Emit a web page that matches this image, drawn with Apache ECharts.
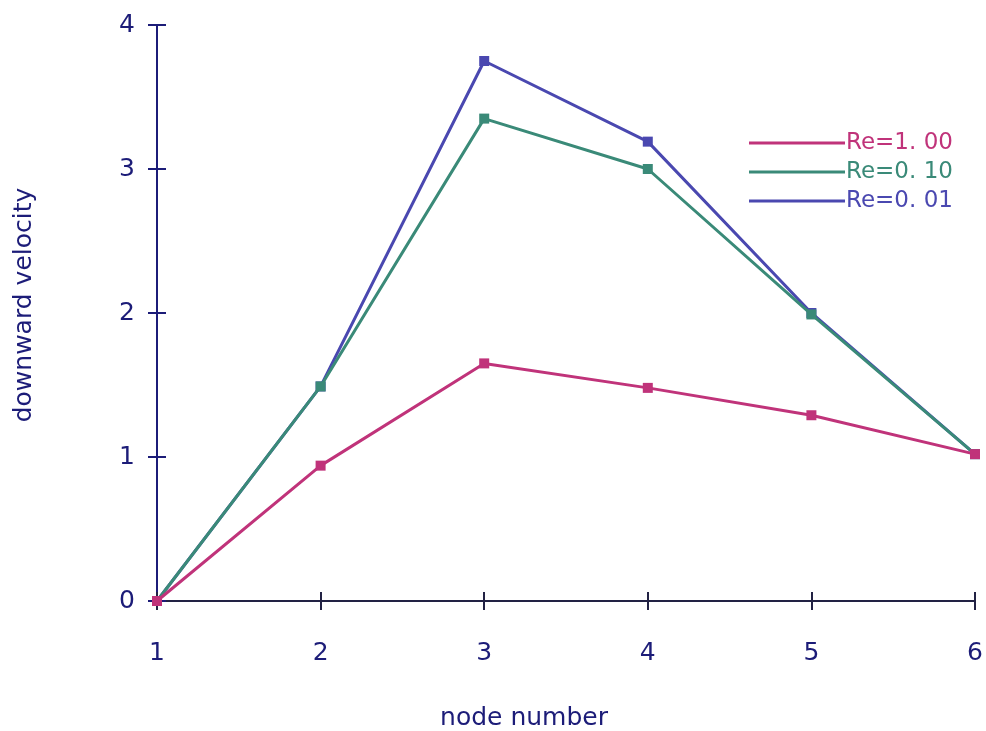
<!DOCTYPE html>
<html><head><meta charset="utf-8">
<script src="https://cdn.jsdelivr.net/npm/echarts@6/dist/echarts.min.js"></script>
<style>html,body{margin:0;padding:0;background:#fff}#c{width:986px;height:731px}</style>
</head><body><div id="c"></div>
<script>
const nodes = [1, 2, 3, 4, 5, 6];
const re100 = [0, 0.94, 1.65, 1.48, 1.29, 1.02];
const re010 = [0, 1.49, 3.35, 3.00, 1.99, 1.02];
const re001 = [0, 1.49, 3.75, 3.19, 2.00, 1.02];
const seriesNames = ['Re=1. 00', 'Re=0. 10', 'Re=0. 01'];
const colors = ['#c0337a', '#3a8a78', '#4a48b0'];
const yTicks = [0, 1, 2, 3, 4];

const font = 'DejaVu Sans';
const axisColor = '#1c1c78';
const pair = arr => nodes.map((n, i) => [n, arr[i]]);
const allData = [re100, re010, re001];

const chart = echarts.init(document.getElementById('c'));
chart.setOption({
  backgroundColor: '#ffffff',
  animation: false,
  grid: { left: 157, right: 11, top: 25, bottom: 130, containLabel: false, outerBoundsMode: 'none' },
  legend: {
    orient: 'vertical', left: 744, top: 126, itemGap: 5,
    itemWidth: 96, itemHeight: 3, icon: 'rect', itemStyle: { borderWidth: 0 },
    textStyle: { fontFamily: font, fontSize: 23, lineHeight: 24, padding: [0, 0, 0, -4] },
    data: seriesNames.map((n, i) => ({ name: n, textStyle: { color: colors[i] } }))
  },
  xAxis: [{
    type: 'value', min: 1, max: 6, interval: 1,
    name: 'node number', nameLocation: 'middle', nameGap: 105,
    nameTextStyle: { fontFamily: font, fontSize: 25, color: '#1c1c78', padding: [0, 84, 0, 0] },
    axisLine: { lineStyle: { color: '#222244', width: 2 } },
    axisTick: { show: true, length: 9, lineStyle: { color: '#222244', width: 2 } },
    axisLabel: { fontFamily: font, fontSize: 25, color: '#1c1c78', margin: 40 },
    splitLine: { show: false }
  }, {
    type: 'value', min: 1, max: 6, interval: 1, position: 'bottom',
    axisLine: { show: false },
    axisTick: { show: true, inside: true, length: 9, lineStyle: { color: '#222244', width: 2 } },
    axisLabel: { show: false }, splitLine: { show: false }
  }],
  yAxis: [{
    type: 'value', min: 0, max: 4, interval: 1,
    name: 'downward velocity', nameLocation: 'middle', nameGap: 120, nameRotate: 90,
    nameTextStyle: { fontFamily: font, fontSize: 25, color: '#1c1c78', padding: [0, 0, 0, 16] },
    axisLine: { show: true, lineStyle: { color: axisColor, width: 2 } },
    axisTick: { show: true, length: 9, lineStyle: { color: axisColor, width: 2 } },
    axisLabel: { fontFamily: font, fontSize: 25, color: '#1c1c78', margin: 22,
      formatter: v => yTicks.includes(v) ? String(v) : '' },
    splitLine: { show: false }
  }, {
    type: 'value', min: 0, max: 4, interval: 1, position: 'left',
    axisLine: { show: false },
    axisTick: { show: true, inside: true, length: 9, lineStyle: { color: axisColor, width: 2 } },
    axisLabel: { show: false }, splitLine: { show: false }
  }],
  series: seriesNames.map((n, i) => ({
    name: n, type: 'line', data: pair(allData[i]),
    symbol: 'rect', symbolSize: 10,
    lineStyle: { color: colors[i], width: 3 },
    itemStyle: { color: colors[i] },
    z: 3 - i
  }))
});
</script></body></html>
